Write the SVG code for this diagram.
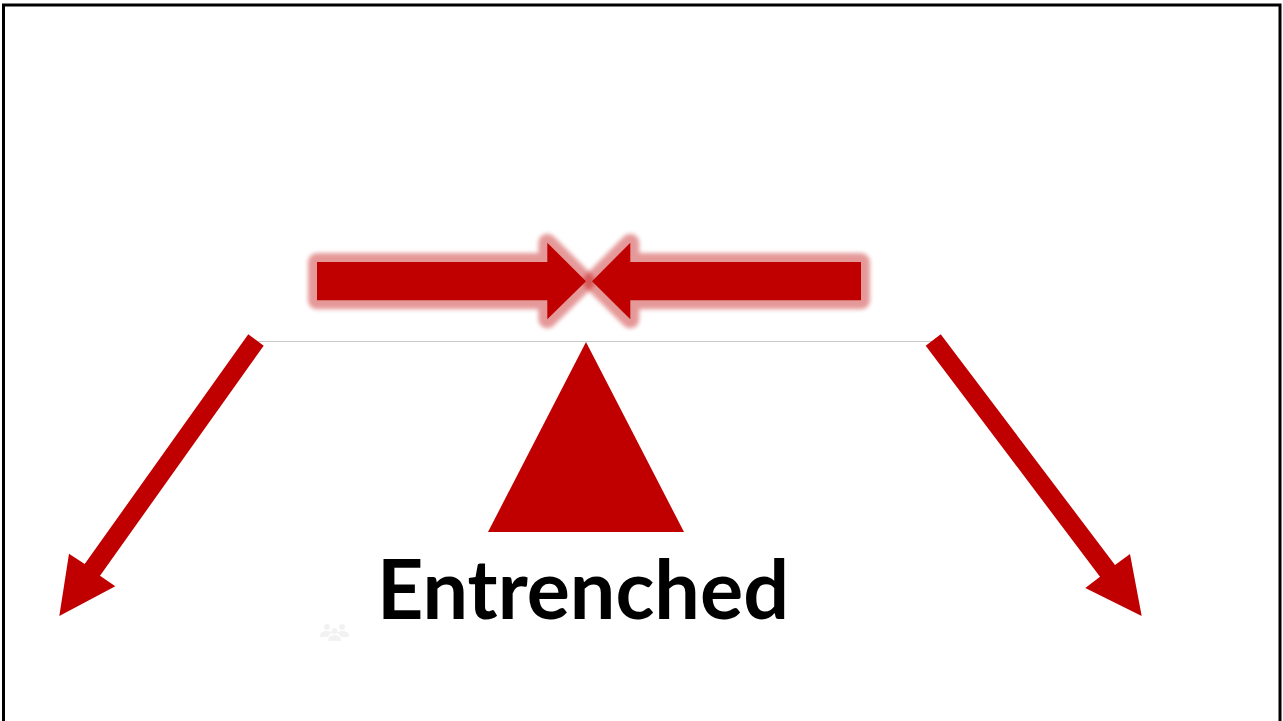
<svg xmlns="http://www.w3.org/2000/svg" width="1283" height="721" viewBox="0 0 1283 721">
<style>
.red{fill:#c00000}
.glow{fill:#c00000;stroke:#c00000;stroke-width:18;stroke-linejoin:round;opacity:.4;filter:url(#soft)}
.person{fill:#f2f2f2}
text{font-family:"Lato","Liberation Sans",sans-serif;font-weight:700;fill:#000}
</style>
<defs><filter id="soft" x="-20%" y="-50%" width="140%" height="200%"><feGaussianBlur stdDeviation="2.2"/></filter></defs>
<rect width="1283" height="721" fill="#fff"/>
<rect x="3.5" y="5" width="1276.5" height="720" fill="none" stroke="#000" stroke-width="3"/>
<g id="beam"><rect x="250" y="341" width="690" height="1" fill="#c9c9c9"/></g>
<g id="connectors">
<polygon id="push-right-glow" class="glow" points="317,262 547.3,262 547.3,242.7 586,281.3 547.3,319.3 547.3,300.3 317,300.3"/>
<polygon id="push-left-glow" class="glow" points="861,262 630.3,262 630.3,242.7 592,281.3 630.3,319.3 630.3,300.3 861,300.3"/>
<polygon id="push-right" class="red" points="317,262 547.3,262 547.3,242.7 586,281.3 547.3,319.3 547.3,300.3 317,300.3"/>
<polygon id="push-left" class="red" points="861,262 630.3,262 630.3,242.7 592,281.3 630.3,319.3 630.3,300.3 861,300.3"/>
<polygon id="fall-left" class="red" points="248.3,334.3 263.7,345.7 100,575.7 115.3,586.3 59.3,616 69,553.7 84.7,564"/>
<polygon id="fall-right" class="red" points="940.7,334.3 925.7,345.7 1100,576.7 1085.3,588 1141.7,616 1130,554 1115,565"/>
</g>
<g id="fulcrum"><polygon class="red" points="586,342 684,532 488,532"/></g>
<g id="people-icon">
<circle class="person" cx="327" cy="627" r="3"/><path class="person" d="M320 636q0-5 7-5q4 0 5 2q-3 1-4 4h-8z"/>
<circle class="person" cx="342" cy="627" r="3"/><path class="person" d="M349 636q0-5-7-5q-4 0-5 2q3 1 4 4h8z"/>
<circle class="person" cx="334.500" cy="631" r="3"/><path class="person" d="M328 641q0-6 6.500-6q6.500 0 6.500 6z"/>
</g>
<g id="label"><text x="377" y="619" font-size="82" textLength="412" lengthAdjust="spacingAndGlyphs">Entrenched</text></g>
</svg>
